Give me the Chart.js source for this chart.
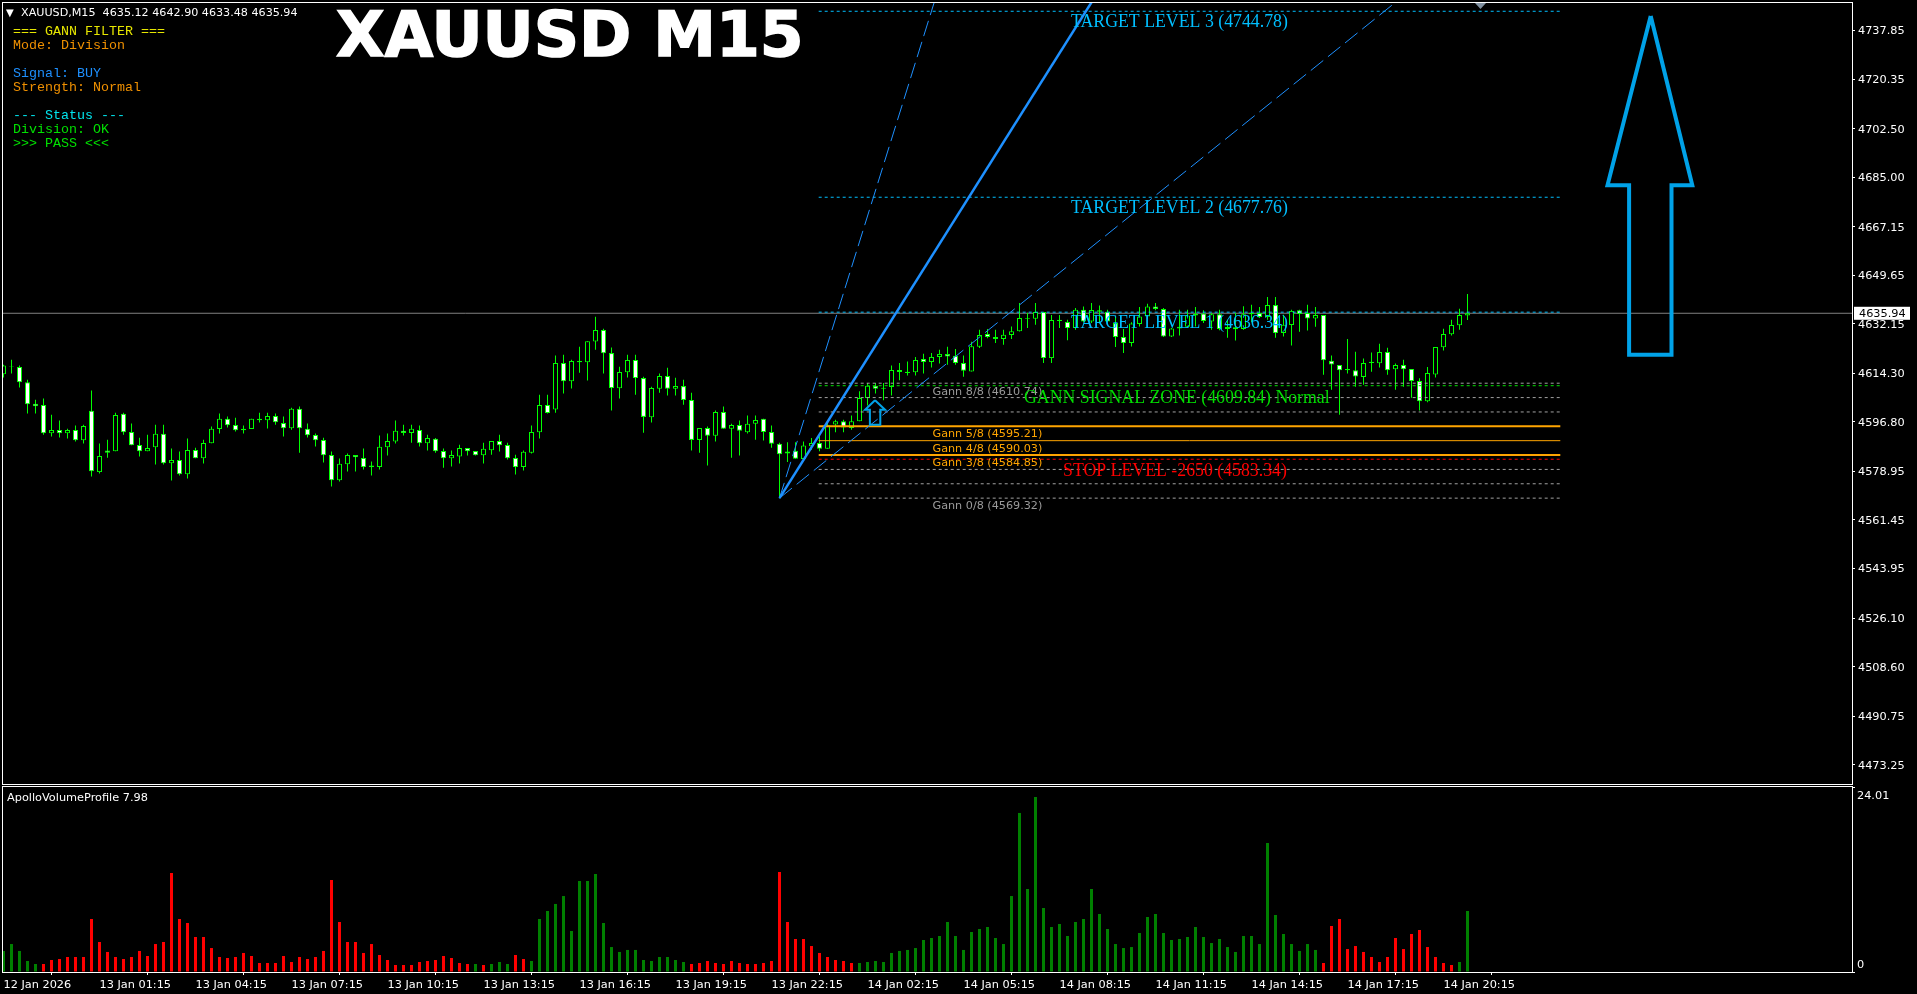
<!DOCTYPE html>
<html>
<head>
<meta charset="utf-8">
<title>XAUUSD M15</title>
<script src="https://cdn.jsdelivr.net/npm/chart.js@4"></script>
<style>
  html, body { margin: 0; padding: 0; background: #000; overflow: hidden; }
  canvas { position: absolute; left: 0; display: block; }
  #mainPane { top: 0; }
  #volumePane { top: 785px; }
</style>
</head>
<body>
<canvas id="mainPane" width="1917" height="785"></canvas>
<canvas id="volumePane" width="1917" height="209"></canvas>
<script>
// ── DATA ─────────────────────────────────────────
const opens = [
  4614.0,4616.8,4616.6,4611.1,4603.3,4602.9,4592.7,4593.9,4592.7,4593.9,
  4590.2,4600.8,4578.7,4586.5,4586.2,4599.7,4593.2,4588.5,4586.2,4587.7,
  4592.5,4581.9,4583.1,4577.9,4586.7,4583.7,4589.1,4594.2,4597.9,4595.7,
  4594.3,4594.2,4597.9,4597.4,4598.9,4596.4,4594.5,4601.5,4594.3,4592.1,
  4590.3,4584.9,4575.8,4581.5,4584.9,4583.8,4581.1,4580.5,4587.7,4589.7,
  4593.6,4592.8,4593.9,4589.1,4590.7,4586.3,4583.7,4584.3,4587.4,4586.3,
  4584.8,4586.6,4589.9,4588.5,4583.8,4580.5,4585.7,4593.1,4602.9,4601.3,
  4618.0,4611.4,4618.7,4618.3,4625.8,4629.9,4621.6,4608.9,4614.7,4619.1,
  4612.6,4598.5,4608.7,4613.3,4608.7,4609.7,4604.7,4590.3,4594.6,4591.8,
  4600.4,4594.3,4595.7,4593.1,4596.1,4597.9,4593.2,4588.9,4586.1,4586.4,
  4583.4,4588.0,4589.2,4587.1,4595.9,4597.0,4594.6,4597.0,4605.4,4609.8,
  4609.1,4609.4,4615.5,4614.9,4614.7,4619.5,4618.4,4620.2,4621.3,4620.6,
  4618.0,4615.0,4623.9,4628.5,4627.4,4626.7,4628.1,4629.5,4634.2,4634.0,
  4636.4,4619.8,4633.6,4632.8,4630.6,4637.2,4633.0,4637.0,4636.5,4632.4,
  4627.4,4625.2,4632.1,4634.8,4638.4,4637.5,4627.6,4631.1,4631.1,4635.7,
  4635.9,4633.0,4635.6,4631.0,4630.9,4630.3,4636.0,4636.0,4634.6,4638.9,
  4628.8,4631.7,4637.0,4636.0,4634.1,4635.3,4618.8,4617.3,4615.9,4615.4,
  4613.0,4618.5,4617.9,4622.0,4615.8,4617.3,4615.9,4611.5,4604.2,4613.9,
  4623.7,4628.4,4631.6,4635.12
];
const highs = [
  4617.4,4619.2,4617.1,4612.0,4604.8,4605.2,4599.4,4597.3,4594.3,4595.5,
  4595.8,4608.1,4589.0,4590.4,4600.1,4600.1,4596.2,4591.1,4592.2,4595.8,
  4595.8,4587.2,4586.1,4590.8,4587.5,4590.4,4595.1,4599.8,4598.7,4598.3,
  4595.5,4597.9,4600.1,4600.1,4599.8,4598.7,4601.9,4602.3,4596.2,4592.6,
  4591.1,4586.1,4583.6,4585.4,4584.9,4587.2,4582.5,4591.9,4592.6,4597.3,
  4595.8,4595.8,4595.5,4592.2,4591.0,4587.2,4586.5,4588.6,4587.4,4586.3,
  4589.3,4589.9,4592.2,4589.3,4585.0,4586.5,4595.5,4606.6,4606.6,4620.7,
  4621.0,4619.2,4623.9,4625.9,4634.7,4630.4,4623.6,4616.7,4621.0,4621.0,
  4613.1,4609.5,4614.2,4616.3,4612.7,4612.0,4607.3,4594.6,4595.1,4600.9,
  4602.3,4596.1,4597.3,4599.1,4599.1,4597.9,4595.5,4589.3,4589.5,4589.5,
  4589.7,4591.0,4591.6,4596.4,4597.6,4597.6,4599.1,4607.8,4610.8,4610.8,
  4610.8,4617.1,4618.0,4618.6,4620.2,4621.4,4621.6,4622.8,4623.9,4623.1,
  4620.7,4625.7,4630.0,4630.3,4630.0,4630.0,4631.2,4639.6,4636.1,4639.6,
  4636.4,4635.3,4635.3,4633.6,4637.8,4638.4,4639.6,4638.7,4637.2,4634.8,
  4630.3,4632.7,4638.2,4639.4,4639.6,4637.8,4630.6,4637.2,4637.2,4638.2,
  4637.0,4636.0,4637.2,4633.6,4636.0,4638.5,4639.0,4638.2,4641.8,4641.8,
  4635.4,4637.2,4637.2,4639.0,4638.2,4635.3,4620.7,4617.3,4626.7,4622.1,
  4619.6,4621.8,4625.0,4623.5,4617.8,4619.2,4615.9,4612.5,4616.6,4623.8,
  4630.4,4633.6,4637.6,4642.90
];
const lows = [
  4612.8,4614.2,4609.2,4599.8,4599.8,4592.2,4591.5,4591.2,4590.8,4589.7,
  4589.0,4577.1,4578.2,4583.9,4586.2,4592.2,4588.4,4584.3,4586.2,4581.4,
  4581.4,4575.7,4577.5,4576.4,4583.7,4581.8,4589.1,4592.6,4594.8,4593.3,
  4592.6,4594.2,4596.6,4594.4,4595.8,4591.5,4594.0,4585.7,4591.2,4587.9,
  4582.2,4573.5,4575.3,4578.9,4578.9,4579.6,4577.5,4579.6,4584.7,4589.0,
  4591.9,4589.3,4587.9,4586.5,4585.7,4580.3,4580.7,4581.8,4584.7,4584.7,
  4581.8,4585.0,4586.1,4583.2,4577.8,4579.3,4585.4,4590.8,4599.8,4600.1,
  4607.0,4608.8,4614.5,4611.7,4622.8,4614.2,4600.9,4605.2,4612.8,4606.6,
  4592.9,4596.6,4607.3,4606.3,4606.3,4603.0,4586.5,4585.7,4581.1,4589.7,
  4594.3,4583.9,4584.7,4592.6,4590.4,4590.1,4587.5,4569.32,4582.3,4583.5,
  4583.1,4586.8,4586.2,4587.1,4593.1,4593.1,4594.0,4597.0,4602.7,4607.0,
  4604.6,4606.3,4611.8,4613.5,4613.5,4614.2,4616.4,4617.8,4617.4,4617.4,
  4613.1,4615.0,4623.4,4626.9,4625.2,4624.6,4626.7,4629.4,4630.6,4631.8,
  4618.0,4618.0,4630.6,4626.2,4630.0,4632.7,4632.4,4632.7,4632.7,4623.8,
  4621.6,4624.0,4631.2,4633.9,4637.0,4627.4,4627.4,4627.9,4630.6,4631.2,
  4632.4,4630.0,4629.8,4627.1,4626.1,4630.0,4632.7,4634.2,4633.6,4627.1,
  4627.6,4624.3,4629.3,4629.7,4631.1,4613.8,4608.4,4599.4,4614.2,4609.5,
  4610.2,4614.9,4616.4,4613.8,4608.4,4609.5,4605.5,4600.9,4603.9,4612.8,
  4622.5,4627.9,4630.0,4633.48
];
const closes = [
  4617.1,4616.6,4611.1,4603.2,4602.4,4592.7,4593.9,4592.7,4593.9,4590.2,
  4595.3,4579.0,4584.5,4585.7,4599.3,4593.1,4588.4,4586.2,4587.4,4592.5,
  4581.9,4583.1,4577.9,4586.7,4583.7,4589.2,4594.3,4597.9,4595.6,4593.8,
  4593.8,4597.9,4597.4,4598.9,4596.7,4594.5,4601.5,4594.5,4592.0,4590.2,
  4584.8,4575.8,4581.7,4584.9,4584.1,4580.5,4580.5,4587.8,4589.9,4593.6,
  4592.8,4594.3,4589.1,4591.0,4586.2,4583.7,4584.9,4587.4,4586.2,4584.8,
  4587.1,4589.9,4588.4,4583.7,4580.5,4586.0,4593.2,4602.9,4600.0,4618.0,
  4611.4,4618.7,4618.3,4625.9,4629.9,4621.5,4609.0,4614.8,4619.1,4612.6,
  4598.6,4609.0,4613.3,4608.7,4609.7,4604.7,4590.3,4594.6,4591.8,4600.4,
  4594.3,4595.7,4593.6,4596.1,4597.5,4593.2,4588.9,4585.1,4585.4,4583.5,
  4588.3,4589.2,4587.1,4595.6,4597.0,4594.8,4597.0,4605.4,4609.8,4608.7,
  4608.7,4615.5,4614.8,4614.4,4619.1,4618.4,4620.2,4621.3,4620.4,4618.0,
  4615.2,4624.1,4628.1,4627.4,4626.7,4628.2,4629.5,4634.2,4634.0,4636.4,
  4619.8,4633.5,4633.2,4630.6,4637.2,4633.0,4637.1,4636.5,4633.0,4627.4,
  4625.2,4632.3,4634.8,4638.4,4637.5,4627.6,4630.5,4630.5,4635.1,4635.1,
  4633.2,4635.6,4630.3,4630.3,4630.2,4635.6,4635.6,4634.6,4638.9,4628.8,
  4631.8,4636.8,4635.7,4634.1,4635.3,4619.0,4617.5,4615.4,4615.4,4613.2,
  4618.0,4618.0,4622.0,4615.4,4617.3,4615.8,4611.5,4604.2,4614.4,4623.8,
  4628.5,4631.7,4635.3,4635.94
];

const volumes = [
  2.73,3.63,2.73,1.43,1.04,1.04,1.56,1.69,1.95,1.95,
  1.95,6.88,3.89,2.60,1.95,1.69,1.95,2.73,2.08,3.63,
  3.89,12.85,6.88,6.36,4.54,4.54,3.11,1.95,1.82,1.95,
  2.47,2.08,1.17,1.17,1.17,2.08,1.30,1.95,1.69,1.95,
  2.73,11.94,6.49,3.89,3.89,2.47,3.63,2.21,1.56,0.91,
  0.91,0.91,1.30,1.43,1.56,2.08,1.82,1.17,1.04,1.04,
  0.91,1.04,1.30,1.04,2.21,1.69,1.43,6.88,7.92,8.83,
  9.86,5.32,11.81,11.81,12.72,6.36,3.24,2.60,2.86,2.86,
  1.56,1.43,1.95,1.95,1.56,1.30,1.04,1.17,1.43,1.17,
  1.04,1.43,1.17,1.04,1.04,1.17,1.43,12.98,6.49,4.28,
  4.28,3.37,2.47,1.95,1.56,1.43,1.17,1.17,1.30,1.43,
  1.30,2.47,2.73,2.86,3.11,4.15,4.41,4.67,6.49,4.67,
  2.86,5.19,5.58,5.84,4.41,3.63,9.86,20.64,10.77,22.71,
  8.31,5.84,6.23,4.67,6.49,6.88,10.77,7.53,5.58,3.63,
  3.11,3.24,5.06,7.14,7.53,5.06,4.15,4.28,4.54,5.84,
  4.54,3.76,4.28,3.24,2.60,4.67,4.67,3.63,16.74,7.40,
  4.93,3.63,2.73,3.63,2.86,1.17,5.97,6.88,2.98,3.37,
  2.60,1.95,1.30,1.95,4.41,2.98,4.93,5.45,3.24,1.95,
  1.17,0.91,1.30,7.92
];
// 1 = green bar, 0 = red bar
const volumeRising = [
  1,1,1,1,1,0,0,0,0,0, 0,0,0,0,0,0,0,0,0,0,
  0,0,0,0,0,0,0,0,0,0, 0,0,0,0,0,0,0,0,0,0,
  0,0,0,0,0,0,0,0,0,0, 0,0,0,0,0,0,0,0,0,1,
  0,1,1,1,0,0,1,1,1,1, 1,1,1,1,1,1,1,1,1,1,
  1,1,1,1,1,1,0,0,0,0, 0,0,0,0,0,0,0,0,0,0,
  0,0,0,0,0,0,0,1,1,1, 1,1,1,1,1,1,1,1,1,1,
  1,1,1,1,1,1,1,1,1,1, 1,1,1,1,1,1,1,1,1,1,
  1,1,1,1,1,1,1,1,1,1, 1,1,1,1,1,1,1,1,1,1,
  1,1,1,1,1,0,0,0,0,0, 0,0,0,0,0,0,0,0,0,0,
  0,0,1,1
];

const priceTicks = [4737.85,4720.35,4702.50,4685.00,4667.15,4649.65,4632.15,4614.30,4596.80,4578.95,4561.45,4543.95,4526.10,4508.60,4490.75,4473.25];
const timeTickBars = [0,12,24,36,48,60,72,84,96,108,120,132,144,156,168,180];
const timeTickLabels = ['12 Jan 2026','13 Jan 01:15','13 Jan 04:15','13 Jan 07:15','13 Jan 10:15','13 Jan 13:15','13 Jan 16:15','13 Jan 19:15','13 Jan 22:15','14 Jan 02:15','14 Jan 05:15','14 Jan 08:15','14 Jan 11:15','14 Jan 14:15','14 Jan 17:15','14 Jan 20:15'];
const volumeTicks = [0, 24.01];

const lastPrice = 4635.94;
const targetLevels = [4744.78, 4677.76, 4636.34];
const signalLevel = 4609.84;
const stopLevel = 4583.34;
const gannLevels = [4610.74,4605.56,4600.38,4595.21,4590.03,4584.85,4579.67,4574.50,4569.32];

// fan: anchor bar/price, then where each ray leaves the pane
const fanStart = [97, 4569.32];
const fanEnds = [[116.34, 4748.0], [136, 4748.0], [174, 4748.0]];

// [bar, price] outlines of the two arrow objects
const bigArrow = [[205.9,4743.1],[211.1,4682.07],[208.5,4682.07],[208.5,4621.0],[203.2,4621.0],[203.2,4682.07],[200.5,4682.07],[205.9,4743.1]];
const smallArrow = [[108.94,4604.6],[110.2,4601.2],[109.6,4601.2],[109.6,4595.8],[108.3,4595.8],[108.3,4601.2],[107.7,4601.2],[108.94,4604.6]];

// ── STYLE ────────────────────────────────────────
const LIME = '#00ff00', ORANGE = '#ffa500', SKY = '#00bfff', DODGER = '#1e90ff', ARROW = '#00a2e8', GREY = '#a0a0a0';
const AXIS_FONT = { family: "'DejaVu Sans'", size: 11.3 };
const X_MIN = -0.0625, X_MAX = 231.0625;
const LEVEL_FROM = 101.9, LEVEL_TO = 194.6;
const barIndex = opens.map((_, i) => i);

function levelLine(price, color, width, dash, order) {
  return {
    type: 'line', data: [{ x: LEVEL_FROM, y: price }, { x: LEVEL_TO, y: price }],
    borderColor: color, borderWidth: width, borderDash: dash, pointRadius: 0, order
  };
}

function pathLine(points, color, width, dash, order) {
  return {
    type: 'line', data: points.map(p => ({ x: p[0], y: p[1] })),
    borderColor: color, borderWidth: width, borderDash: dash, pointRadius: 0, tension: 0,
    borderJoinStyle: 'miter', order
  };
}

function gannStyle(i) {
  if (i === 3 || i === 5) return levelLine(gannLevels[i], ORANGE, 2, [], 3);
  if (i === 4) return levelLine(gannLevels[i], ORANGE, 1, [], 3);
  return levelLine(gannLevels[i], GREY, 1, [3, 3], 3);
}

// ── TEXT ON THE CHART ────────────────────────────
const infoLines = [
  ['=== GANN FILTER ===', '#e6e600', 31],
  ['Mode: Division', '#f09000', 45],
  ['Signal: BUY', DODGER, 73],
  ['Strength: Normal', '#f09000', 87],
  ['--- Status ---', '#00e5ee', 115],
  ['Division: OK', '#00e000', 129],
  ['>>> PASS <<<', '#00e000', 143]
];
const gannLabels = [
  ['Gann 8/8 (4610.74)', '#9a9a9a', 392],
  ['Gann 5/8 (4595.21)', ORANGE, 434.5],
  ['Gann 4/8 (4590.03)', ORANGE, 449.5],
  ['Gann 3/8 (4584.85)', ORANGE, 463.5],
  ['Gann 0/8 (4569.32)', '#9a9a9a', 506.5]
];
const serifLabels = [
  ['TARGET LEVEL 3 (4744.78)', SKY, 1071, 22],
  ['TARGET LEVEL 2 (4677.76)', SKY, 1071, 208],
  ['TARGET LEVEL 1 (4636.34)', SKY, 1071, 323],
  ['GANN SIGNAL ZONE (4609.84) Normal', '#00dd00', 1024, 398],
  ['STOP LEVEL -2650 (4583.34)', '#ff0000', 1063, 471]
];

function put(ctx, text, x, y, font, color) {
  ctx.font = font;
  ctx.fillStyle = color;
  ctx.textAlign = 'left';
  ctx.textBaseline = 'middle';
  ctx.fillText(text, x, y);
}

const framePlugin = {
  id: 'frame',
  afterDraw(chart) {
    const { ctx, chartArea: a } = chart;
    ctx.save();
    ctx.strokeStyle = '#fff';
    ctx.lineWidth = 1;
    ctx.strokeRect(a.left - 0.5, a.top - 0.5, a.right - a.left + 1, a.bottom - a.top + 1);
    ctx.restore();
  }
};

const mainTextPlugin = {
  id: 'mainText',
  afterDraw(chart) {
    const { ctx } = chart;
    ctx.save();
    put(ctx, 'XAUUSD M15', 336, 40, "bold 63px 'DejaVu Sans'", '#fff');
    ctx.strokeStyle = '#fff';
    ctx.lineWidth = 1.5;
    ctx.strokeText('XAUUSD M15', 336, 40);
    put(ctx, '▼', 6, 13, "10px 'DejaVu Sans'", '#fff');
    put(ctx, 'XAUUSD,M15  4635.12 4642.90 4633.48 4635.94', 21, 13, "11.15px 'DejaVu Sans'", '#fff');
    infoLines.forEach(l => put(ctx, l[0], 13, l[2], "13.33px 'Liberation Mono'", l[1]));
    gannLabels.forEach(l => put(ctx, l[0], 932.5, l[2], "11.2px 'DejaVu Sans'", l[1]));
    serifLabels.forEach(l => put(ctx, l[0], l[2], l[3], "17.8px 'Liberation Serif'", l[1]));

    // chart-shift marker on the top edge
    ctx.fillStyle = '#8090a0';
    ctx.beginPath();
    ctx.moveTo(1475, 3); ctx.lineTo(1486, 3); ctx.lineTo(1480.5, 9);
    ctx.closePath();
    ctx.fill();

    // last price tag
    const y = chart.scales.y.getPixelForValue(lastPrice);
    ctx.fillStyle = '#fff';
    ctx.fillRect(1854, y - 6.5, 56, 13);
    put(ctx, lastPrice.toFixed(2), 1859, y + 0.5, "11.3px 'DejaVu Sans'", '#000');
    ctx.restore();
  }
};

const volumeTextPlugin = {
  id: 'volumeText',
  afterDraw(chart) {
    const { ctx } = chart;
    ctx.save();
    put(ctx, 'ApolloVolumeProfile 7.98', 7, 13, "11.3px 'DejaVu Sans'", '#fff');
    put(ctx, volumeTicks[1].toFixed(2), 1857, 11, "11.3px 'DejaVu Sans'", '#fff');
    put(ctx, String(volumeTicks[0]), 1857, 180, "11.3px 'DejaVu Sans'", '#fff');
    ctx.restore();
  }
};

// ── MAIN PANE ────────────────────────────────────
new Chart(document.getElementById('mainPane').getContext('2d'), {
  type: 'bar',
  data: {
    datasets: [
      pathLine([[X_MIN, lastPrice], [X_MAX, lastPrice]], '#808080', 1, [], 9),
      {
        label: 'wick', data: barIndex.map(i => ({ x: i, y: [lows[i], highs[i]] })),
        backgroundColor: LIME, barThickness: 1, grouped: false, borderWidth: 0, inflateAmount: 0, order: 8
      },
      {
        label: 'body', data: barIndex.map(i => ({ x: i, y: [opens[i], closes[i]] })),
        backgroundColor: barIndex.map(i => closes[i] < opens[i] ? '#fff' : '#000'),
        borderColor: LIME, borderWidth: 1, borderSkipped: false, barThickness: 5, grouped: false, inflateAmount: 0, order: 7
      },
      ...gannLevels.map((_, i) => gannStyle(i)),
      levelLine(signalLevel, '#00e000', 1, [3, 3], 3),
      levelLine(stopLevel, '#ff0000', 1, [3, 3], 3),
      ...targetLevels.map(p => levelLine(p, SKY, 1, [3, 3], 3)),
      pathLine([fanStart, fanEnds[0]], DODGER, 1, [16, 6], 2),
      pathLine([fanStart, fanEnds[1]], DODGER, 2.5, [], 2),
      pathLine([fanStart, fanEnds[2]], DODGER, 1, [16, 6], 2),
      pathLine(smallArrow, ARROW, 2, [], 1),
      pathLine(bigArrow, ARROW, 4, [], 1)
    ]
  },
  options: {
    responsive: false,
    animation: false,
    events: [],
    layout: { autoPadding: false, padding: { left: 3, top: 3, right: 0, bottom: 1 } },
    plugins: { legend: { display: false }, tooltip: { enabled: false } },
    scales: {
      x: { type: 'linear', display: false, offset: false, min: X_MIN, max: X_MAX },
      y: {
        position: 'right', min: 4466.3, max: 4747.76,
        afterBuildTicks: s => { s.ticks = priceTicks.map(value => ({ value })); },
        afterFit: s => { s.width = 65; s.paddingTop = 0; s.paddingBottom = 0; },
        grid: { drawOnChartArea: false, drawTicks: true, tickLength: 3, color: '#fff' },
        border: { display: false },
        ticks: { color: '#fff', font: AXIS_FONT, padding: 3, labelOffset: 1, autoSkip: false, callback: v => v.toFixed(2) }
      }
    }
  },
  plugins: [framePlugin, mainTextPlugin]
});

// ── VOLUME PANE ──────────────────────────────────
new Chart(document.getElementById('volumePane').getContext('2d'), {
  type: 'bar',
  data: {
    datasets: [{
      label: 'ApolloVolumeProfile',
      data: barIndex.map(i => ({ x: i, y: volumes[i] })),
      backgroundColor: barIndex.map(i => volumeRising[i] ? '#008000' : '#ff0000'),
      barThickness: 3, grouped: false, borderWidth: 0, inflateAmount: 0
    }]
  },
  options: {
    responsive: false,
    animation: false,
    events: [],
    layout: { autoPadding: false, padding: { left: 3, top: 2, right: 0, bottom: 0 } },
    plugins: { legend: { display: false }, tooltip: { enabled: false } },
    scales: {
      x: {
        type: 'linear', offset: false, min: X_MIN, max: X_MAX,
        afterBuildTicks: s => { s.ticks = timeTickBars.map(value => ({ value })); },
        afterFit: s => { s.height = 22; s.paddingLeft = 0; s.paddingRight = 0; },
        grid: { drawOnChartArea: false, drawTicks: true, tickLength: 3, color: '#fff' },
        border: { display: false },
        ticks: {
          color: '#fff', font: AXIS_FONT, padding: 3, autoSkip: false, maxRotation: 0, minRotation: 0,
          align: 'start', callback: (v, i) => timeTickLabels[i]
        }
      },
      y: {
        position: 'right', min: 0, max: 24.01,
        afterBuildTicks: s => { s.ticks = volumeTicks.map(value => ({ value })); },
        afterFit: s => { s.width = 65; s.paddingTop = 0; s.paddingBottom = 0; },
        grid: { drawOnChartArea: false, drawTicks: true, tickLength: 3, color: '#fff' },
        border: { display: false },
        ticks: { display: false }
      }
    }
  },
  plugins: [framePlugin, volumeTextPlugin]
});
</script>
</body>
</html>
